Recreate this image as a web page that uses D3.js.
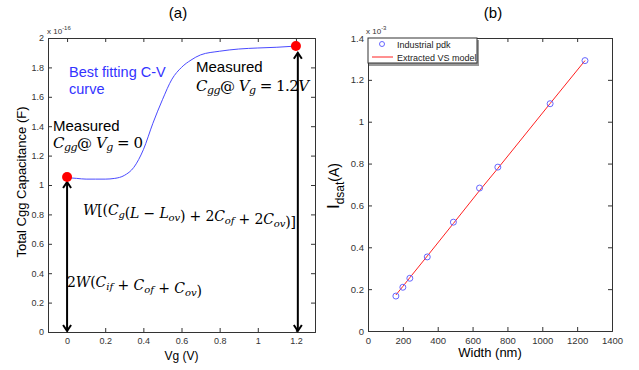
<!DOCTYPE html>
<html>
<head>
<meta charset="utf-8">
<script src="https://cdn.jsdelivr.net/npm/d3@7/dist/d3.min.js"></script>
<style>
  body { margin: 0; background: #fff; }
  svg { font-family: "Liberation Sans", Arial, sans-serif; }
  .tick text { fill: #333; }
  .domain, .tick line { stroke: #333; }
  .math { font-family: "DejaVu Serif", "Liberation Serif", serif; font-style: italic; }
</style>
</head>
<body>
<svg id="chart" width="639" height="370"></svg>
<script>
(function () {
  'use strict';

  // panel (a): C-V curve
  var vgValues = [0, 0.05, 0.1, 0.15, 0.2, 0.25, 0.3, 0.35, 0.4, 0.45, 0.5, 0.55, 0.6, 0.65, 0.7, 0.8, 0.9, 1.0, 1.1, 1.2];
  var cggValues = [1.05, 1.045, 1.04, 1.04, 1.04, 1.045, 1.065, 1.12, 1.24, 1.42, 1.58, 1.72, 1.8, 1.85, 1.885, 1.91, 1.925, 1.932, 1.937, 1.945];
  var measuredVg = [0, 1.2];
  var measuredCgg = [1.055, 1.945];
  var cvXTicks = [0, 0.2, 0.4, 0.6, 0.8, 1, 1.2];
  var cvYTicks = [0, 0.2, 0.4, 0.6, 0.8, 1, 1.2, 1.4, 1.6, 1.8, 2];

  // panel (b): Idsat vs width
  var widths = [160, 200, 240, 340, 490, 640, 745, 1045, 1245];
  var pdkIdsat = [0.167, 0.209, 0.252, 0.354, 0.52, 0.683, 0.783, 1.086, 1.292];
  var modelIdsat = [0.172, 0.213, 0.255, 0.358, 0.514, 0.671, 0.777, 1.087, 1.292];
  var wTicks = [0, 200, 400, 600, 800, 1000, 1200, 1400];
  var iTicks = [0, 0.2, 0.4, 0.6, 0.8, 1, 1.2, 1.4];

  var svg = d3.select('#chart');

  function drawFrame(g, x, y, w, h, xTicks, yTicks, fontSize) {
    var fmt = d3.format('~g');
    g.append('g').attr('transform', 'translate(0,' + h + ')')
      .call(d3.axisBottom(x).tickValues(xTicks).tickFormat(fmt).tickSize(-4).tickPadding(6))
      .call(function (s) { s.selectAll('text').attr('font-size', fontSize); });
    g.append('g')
      .call(d3.axisTop(x).tickValues(xTicks).tickFormat('').tickSize(-4));
    g.append('g')
      .call(d3.axisLeft(y).tickValues(yTicks).tickFormat(fmt).tickSize(-4).tickPadding(4))
      .call(function (s) { s.selectAll('text').attr('font-size', fontSize); });
    g.append('g').attr('transform', 'translate(' + w + ',0)')
      .call(d3.axisRight(y).tickValues(yTicks).tickFormat('').tickSize(-4));
    g.selectAll('.domain').attr('stroke', '#333');
  }

  function arrow(g, x, y1, y2) {
    g.append('line').attr('x1', x).attr('x2', x).attr('y1', y1).attr('y2', y2)
      .attr('stroke', '#000').attr('stroke-width', 2);
    [[y1, 1], [y2, -1]].forEach(function (a) {
      g.append('path')
        .attr('d', 'M' + (x - 4) + ',' + (a[0] + 6 * a[1]) + 'L' + x + ',' + a[0] + 'L' + (x + 4) + ',' + (a[0] + 6 * a[1]))
        .attr('fill', 'none').attr('stroke', '#000').attr('stroke-width', 2);
    });
  }

  // ---------- panel (a)
  var aL = 48, aT = 38, aW = 267, aH = 294;
  var ax = d3.scaleLinear().domain([-0.1, 1.3]).range([0, aW]);
  var ay = d3.scaleLinear().domain([0, 2]).range([aH, 0]);
  var ga = svg.append('g').attr('transform', 'translate(' + aL + ',' + aT + ')');
  drawFrame(ga, ax, ay, aW, aH, cvXTicks, cvYTicks, 9);

  ga.append('path')
    .datum(vgValues.map(function (v, i) { return [v, cggValues[i]]; }))
    .attr('d', d3.line().x(function (d) { return ax(d[0]); }).y(function (d) { return ay(d[1]); }).curve(d3.curveMonotoneX))
    .attr('fill', 'none').attr('stroke', '#4a4aff').attr('stroke-width', 1);

  arrow(ga, ax(0), ay(1.02), ay(0) - 1);
  arrow(ga, ax(1.21), ay(1.9), ay(0) - 1);

  ga.selectAll('circle.meas')
    .data(measuredVg)
    .enter().append('circle').attr('class', 'meas')
    .attr('cx', function (d) { return ax(d); })
    .attr('cy', function (d, i) { return ay(measuredCgg[i]); })
    .attr('r', 5).attr('fill', '#ff0000');

  svg.append('text').attr('x', 178).attr('y', 18).attr('text-anchor', 'middle')
    .attr('font-size', 15).text('(a)');
  svg.append('text').attr('x', 47).attr('y', 34).attr('font-size', 8).attr('fill', '#333')
    .text('x 10').append('tspan').attr('dy', -4).attr('font-size', 6).text('-16');

  svg.append('text').attr('transform', 'translate(26,182) rotate(-90)').attr('text-anchor', 'middle')
    .attr('font-size', 13).text('Total Cgg Capacitance (F)');
  svg.append('text').attr('x', aL + aW / 2).attr('y', 360).attr('text-anchor', 'middle')
    .attr('font-size', 12).text('Vg (V)');

  var blue = svg.append('text').attr('font-size', 14.5).attr('fill', '#3333ff');
  blue.append('tspan').attr('x', 69).attr('y', 77).text('Best fitting C-V');
  blue.append('tspan').attr('x', 69).attr('y', 94).text('curve');

  svg.append('text').attr('x', 196).attr('y', 72).attr('font-size', 15).text('Measured');
  svg.append('text').attr('x', 53).attr('y', 131).attr('font-size', 15).text('Measured');

  function cgg(x, y, tail, len) {
    var t = svg.append('text').attr('class', 'math').attr('x', x).attr('y', y).attr('font-size', 15)
      .attr('textLength', len).attr('lengthAdjust', 'spacing');
    t.append('tspan').text('C');
    t.append('tspan').attr('dy', 3).attr('font-size', 11).text('gg');
    t.append('tspan').attr('dy', -3).attr('font-style', 'normal').text('@ ');
    t.append('tspan').text('V');
    t.append('tspan').attr('dy', 3).attr('font-size', 11).text('g');
    t.append('tspan').attr('dy', -3).attr('font-style', 'normal').text(' = ' + tail[0]);
    if (tail[1]) t.append('tspan').text(tail[1]);
  }
  cgg(196, 91, ['1.2', 'V'], 113);
  cgg(53, 148, ['0'], 90);

  function sub(t, main, s) {
    if (main) t.append('tspan').text(main);
    t.append('tspan').attr('dy', 3).attr('font-size', 10).text(s);
    t.append('tspan').attr('dy', -3).text('');
  }
  var f1 = svg.append('text').attr('class', 'math').attr('x', 83).attr('y', 215).attr('font-size', 14)
    .attr('textLength', 213).attr('lengthAdjust', 'spacing');
  f1.append('tspan').text('W');
  f1.append('tspan').attr('font-style', 'normal').text('[(');
  sub(f1, 'C', 'g');
  f1.append('tspan').attr('font-style', 'normal').text('(');
  f1.append('tspan').text('L');
  f1.append('tspan').attr('font-style', 'normal').text(' \u2212 ');
  sub(f1, 'L', 'ov');
  f1.append('tspan').attr('font-style', 'normal').text(') + 2');
  sub(f1, 'C', 'of');
  f1.append('tspan').attr('font-style', 'normal').text(' + 2');
  sub(f1, 'C', 'ov');
  f1.append('tspan').attr('font-style', 'normal').text(')]');

  var f2 = svg.append('text').attr('class', 'math').attr('x', 67).attr('y', 287).attr('font-size', 14)
    .attr('textLength', 135).attr('lengthAdjust', 'spacing');
  f2.append('tspan').attr('font-style', 'normal').text('2');
  f2.append('tspan').text('W');
  f2.append('tspan').attr('font-style', 'normal').text('(');
  sub(f2, 'C', 'if');
  f2.append('tspan').attr('font-style', 'normal').text(' + ');
  sub(f2, 'C', 'of');
  f2.append('tspan').attr('font-style', 'normal').text(' + ');
  sub(f2, 'C', 'ov');
  f2.append('tspan').attr('font-style', 'normal').text(')');

  // ---------- panel (b)
  var bL = 368, bT = 38, bW = 244, bH = 293;
  var bx = d3.scaleLinear().domain([0, 1400]).range([0, bW]);
  var by = d3.scaleLinear().domain([0, 1.4]).range([bH, 0]);
  var gb = svg.append('g').attr('transform', 'translate(' + bL + ',' + bT + ')');
  drawFrame(gb, bx, by, bW, bH, wTicks, iTicks, 9.5);

  gb.append('path')
    .datum(widths.map(function (w, i) { return [w, modelIdsat[i]]; }))
    .attr('d', d3.line().x(function (d) { return bx(d[0]); }).y(function (d) { return by(d[1]); }))
    .attr('fill', 'none').attr('stroke', '#ff2020').attr('stroke-width', 1);

  gb.selectAll('circle.pdk')
    .data(widths)
    .enter().append('circle').attr('class', 'pdk')
    .attr('cx', function (d) { return bx(d); })
    .attr('cy', function (d, i) { return by(pdkIdsat[i]); })
    .attr('r', 3).attr('fill', 'none').attr('stroke', '#6666ff').attr('stroke-width', 1);

  // legend
  var lg = gb.append('g');
  lg.append('rect').attr('x', 1).attr('y', 2).attr('width', 110).attr('height', 26).attr('fill', '#999');
  lg.append('rect').attr('x', 0).attr('y', 0).attr('width', 109).attr('height', 25)
    .attr('fill', '#fff').attr('stroke', '#333').attr('stroke-width', 1);
  lg.append('circle').attr('cx', 14).attr('cy', 6).attr('r', 2.5)
    .attr('fill', 'none').attr('stroke', '#6666ff');
  lg.append('text').attr('x', 29).attr('y', 10).attr('font-size', 9).attr('fill', '#222')
    .text('Industrial pdk');
  lg.append('line').attr('x1', 4).attr('x2', 25).attr('y1', 19).attr('y2', 19)
    .attr('stroke', '#ff2020').attr('stroke-width', 1);
  lg.append('text').attr('x', 29).attr('y', 23).attr('font-size', 9).attr('fill', '#222')
    .text('Extracted VS model');

  svg.append('text').attr('x', 493).attr('y', 18).attr('text-anchor', 'middle')
    .attr('font-size', 15).text('(b)');
  svg.append('text').attr('x', 366).attr('y', 34).attr('font-size', 8).attr('fill', '#333')
    .text('x 10').append('tspan').attr('dy', -4).attr('font-size', 6).text('-3');

  var yl = svg.append('text').attr('transform', 'translate(339,186) rotate(-90)').attr('text-anchor', 'middle');
  yl.append('tspan').attr('font-size', 17).text('I');
  yl.append('tspan').attr('font-size', 12).attr('dy', 5).text('dsat');
  yl.append('tspan').attr('font-size', 14).attr('dy', -5).text('(A)');
  svg.append('text').attr('x', bL + bW / 2).attr('y', 357).attr('text-anchor', 'middle')
    .attr('font-size', 13).text('Width (nm)');
})();
</script>
</body>
</html>
